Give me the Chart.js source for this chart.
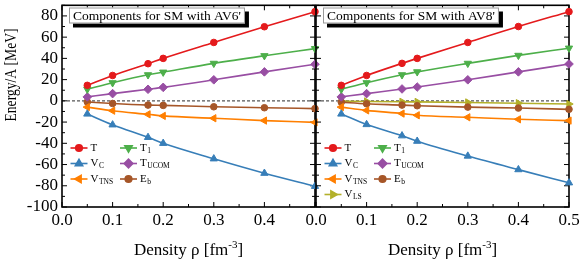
<!DOCTYPE html>
<html>
<head>
<meta charset="utf-8">
<script src="https://cdn.jsdelivr.net/npm/chart.js@4.4.1/dist/chart.umd.min.js"></script>
<style>
  body { margin: 0; background: #fff; }
  #wrap { position: relative; width: 581px; height: 260px; }
  canvas { position: absolute; left: 0; top: 0; }
</style>
</head>
<body>
<div id="wrap">
  <canvas id="left" width="581" height="260"></canvas>
  <canvas id="right" width="581" height="260"></canvas>
</div>
<script>
// density points (fm^-3)
const density = [0.05, 0.1, 0.17, 0.2, 0.3, 0.4, 0.5];
const xTicks = [0, 0.1, 0.2, 0.3, 0.4, 0.5];
const yTicks = [-100, -80, -60, -40, -20, 0, 20, 40, 60, 80];

// AV6' panel
const T_av6 = [14.6, 23.9, 35.0, 40.0, 55.0, 69.8, 84.0];
const T1_av6 = [10.9, 17.0, 24.5, 27.0, 35.3, 42.5, 49.2];
const Tucom_av6 = [3.7, 6.8, 10.9, 12.7, 19.8, 27.3, 34.5];
const Vc_av6 = [-12.4, -22.6, -34.4, -40.0, -54.6, -68.2, -80.5];
const Vtns_av6 = [-5.9, -9.3, -12.7, -14.2, -16.4, -18.6, -20.3];
const Eb_av6 = [-1.0, -2.5, -4.0, -4.3, -5.6, -6.5, -7.3];

// AV8' panel
const T_av8 = [14.6, 23.9, 35.3, 40.0, 55.0, 70.0, 84.0];
const T1_av8 = [10.9, 17.0, 24.5, 27.3, 35.3, 42.8, 49.6];
const Tucom_av8 = [3.7, 6.8, 11.2, 13.0, 19.8, 27.3, 34.7];
const Vc_av8 = [-12.4, -22.3, -32.9, -38.0, -52.0, -64.8, -77.2];
const Vtns_av8 = [-5.9, -9.0, -12.0, -13.6, -15.5, -17.4, -18.6];
const Eb_av8 = [-1.2, -2.8, -4.0, -4.6, -5.9, -6.8, -8.0];
const Vls_av8 = [-0.3, -0.6, -0.9, -1.0, -1.5, -2.2, -3.0];

const SERIF = '"Liberation Serif", "Times New Roman", serif';

// look of each component
const styles = {
  'T':      { color: '#e41a1c', point: 'circle',   rot: 0,   r: 3.3 },
  'T_1':    { color: '#4daf4a', point: 'triangle', rot: 180, r: 4.2 },
  'V_C':    { color: '#377eb8', point: 'triangle', rot: 0,   r: 4.2 },
  'T_UCOM': { color: '#984ea3', point: 'rectRot',  rot: 0,   r: 4.3 },
  'V_TNS':  { color: '#ff7f00', point: 'triangle', rot: 270, r: 4.2 },
  'E_b':    { color: '#a65628', point: 'circle',   rot: 0,   r: 3.3 },
  'V_LS':   { color: '#b3b02a', point: 'triangle', rot: 90,  r: 4.2 }
};

function makeSet(label, values) {
  const s = styles[label];
  return {
    label: label,
    data: density.map((d, i) => ({ x: d, y: values[i] })),
    borderColor: s.color,
    backgroundColor: s.color,
    borderWidth: 1.6,
    pointStyle: s.point,
    rotation: s.rot,
    pointRadius: s.r,
    pointBorderWidth: 1,
    cubicInterpolationMode: 'monotone',
    clip: false
  };
}

function line(ctx, x1, y1, x2, y2) {
  ctx.beginPath(); ctx.moveTo(x1, y1); ctx.lineTo(x2, y2); ctx.stroke();
}

// frame, inward ticks, zero line, legend, boxed title and axis titles
const panelDeco = {
  id: 'panelDeco',
  beforeDatasetsDraw(chart, args, o) {
    const { ctx, chartArea: a, scales: { x, y } } = chart;
    ctx.save();
    ctx.strokeStyle = '#555';
    ctx.lineWidth = 1.2;
    ctx.setLineDash([3, 2]);
    const y0 = y.getPixelForValue(0);
    line(ctx, a.left, y0, a.right, y0);
    ctx.setLineDash([]);

    ctx.strokeStyle = '#000';
    ctx.lineWidth = 1;
    for (let k = 0; k <= 10; k++) {
      const px = x.getPixelForValue(k * 0.05);
      const len = k % 2 === 0 ? 5 : 3;
      line(ctx, px, a.bottom, px, a.bottom - len);
      line(ctx, px, a.top, px, a.top + len);
    }
    for (let v = -100; v <= 90; v += 10) {
      const py = y.getPixelForValue(v);
      const len = v % 20 === 0 ? 5 : 3;
      line(ctx, a.left, py, a.left + len, py);
      line(ctx, a.right, py, a.right - len, py);
    }
    ctx.lineWidth = 1.6;
    ctx.strokeRect(a.left, a.top, a.right - a.left, a.bottom - a.top);
    ctx.restore();
  },
  afterDatasetsDraw(chart, args, o) {
    const { ctx, chartArea: a } = chart;
    ctx.save();

    // legend, two columns
    const rows = [148, 163.5, 179, 194.5];
    chart.data.datasets.forEach((ds, i) => {
      const lx = a.left + (i % 2 === 0 ? 8.5 : 58);
      const ly = rows[Math.floor(i / 2)];
      ctx.strokeStyle = ds.borderColor;
      ctx.lineWidth = 1.6;
      line(ctx, lx, ly, lx + 17, ly);
      ctx.fillStyle = ds.backgroundColor;
      Chart.helpers.drawPoint(ctx, {
        pointStyle: ds.pointStyle, rotation: ds.rotation,
        radius: ds.pointRadius, borderWidth: 1
      }, lx + 8.5, ly);
      const [main, sub] = ds.label.split('_');
      ctx.fillStyle = '#000';
      ctx.textBaseline = 'middle';
      ctx.textAlign = 'left';
      ctx.font = '11px ' + SERIF;
      ctx.fillText(main, lx + 20, ly);
      if (sub) {
        const w = ctx.measureText(main).width;
        ctx.font = '7.5px ' + SERIF;
        ctx.fillText(sub, lx + 20 + w + 0.5, ly + 3);
      }
    });

    // boxed panel title with drop shadow
    ctx.font = '13.5px ' + SERIF;
    const tw = ctx.measureText(o.title).width;
    const bx = a.left + 7, by = 7.5, bw = tw + 8, bh = 16;
    ctx.fillStyle = '#000';
    ctx.fillRect(bx + 4, by + 4, bw, bh);
    ctx.fillStyle = '#fff';
    ctx.fillRect(bx, by, bw, bh);
    ctx.strokeStyle = '#999';
    ctx.lineWidth = 1;
    ctx.strokeRect(bx + 0.5, by + 0.5, bw - 1, bh - 1);
    ctx.fillStyle = '#000';
    ctx.textBaseline = 'middle';
    ctx.fillText(o.title, bx + 4, by + bh / 2 + 0.5);

    // x axis title with superscript
    const big = '17px ' + SERIF, small = '11px ' + SERIF;
    const p1 = 'Density \u03c1 [fm', p2 = '-3', p3 = ']';
    ctx.font = big; const w1 = ctx.measureText(p1).width, w3 = ctx.measureText(p3).width;
    ctx.font = small; const w2 = ctx.measureText(p2).width;
    let tx = (a.left + a.right) / 2 - (w1 + w2 + w3) / 2;
    ctx.textBaseline = 'alphabetic';
    ctx.font = big; ctx.fillText(p1, tx, 255); tx += w1;
    ctx.font = small; ctx.fillText(p2, tx, 248); tx += w2;
    ctx.font = big; ctx.fillText(p3, tx, 255);

    // y axis title
    if (o.yTitle) {
      ctx.translate(12, 75);
      ctx.rotate(-Math.PI / 2);
      ctx.scale(0.8, 1);
      ctx.font = '17px ' + SERIF;
      ctx.textAlign = 'center';
      ctx.textBaseline = 'middle';
      ctx.fillText(o.yTitle, 0, 0);
    }
    ctx.restore();
  }
};

function buildChart(id, sets, cfg) {
  return new Chart(document.getElementById(id), {
    type: 'line',
    data: { datasets: sets },
    options: {
      responsive: false,
      animation: false,
      devicePixelRatio: 1,
      layout: { padding: { top: 2, right: cfg.padRight, left: 0, bottom: 0 } },
      plugins: {
        legend: { display: false },
        tooltip: { enabled: false },
        panelDeco: { title: cfg.title, yTitle: cfg.yTitle }
      },
      scales: {
        x: {
          type: 'linear', min: 0, max: 0.5,
          grid: { display: false, drawTicks: false },
          border: { display: false },
          afterBuildTicks: s => { s.ticks = xTicks.map(v => ({ value: v })); },
          ticks: {
            padding: 3, color: '#000', maxRotation: 0, autoSkip: false,
            font: { family: SERIF, size: 17 },
            callback: v => (cfg.hideLast && Math.abs(v - 0.5) < 1e-6) ? '' : Number(v).toFixed(1)
          },
          afterFit: s => { s.height = 53; s.paddingLeft = 0; s.paddingRight = 0; }
        },
        y: {
          min: -100, max: 90,
          grid: { display: false, drawTicks: false },
          border: { display: false },
          afterBuildTicks: s => { s.ticks = yTicks.map(v => ({ value: v })); },
          ticks: {
            display: cfg.yLabels, padding: 4, color: '#000', autoSkip: false,
            font: { family: SERIF, size: 17 }
          },
          afterFit: s => { s.width = cfg.plotLeft; s.paddingTop = 0; s.paddingBottom = 0; }
        }
      }
    },
    plugins: [panelDeco]
  });
}

buildChart('left', [
  makeSet('T', T_av6),
  makeSet('T_1', T1_av6),
  makeSet('V_C', Vc_av6),
  makeSet('T_UCOM', Tucom_av6),
  makeSet('V_TNS', Vtns_av6),
  makeSet('E_b', Eb_av6)
], { plotLeft: 62, padRight: 266, yLabels: true, hideLast: true,
     title: "Components for SM with AV6'", yTitle: 'Energy/A [MeV]' });

buildChart('right', [
  makeSet('T', T_av8),
  makeSet('T_1', T1_av8),
  makeSet('V_C', Vc_av8),
  makeSet('T_UCOM', Tucom_av8),
  makeSet('V_TNS', Vtns_av8),
  makeSet('E_b', Eb_av8),
  makeSet('V_LS', Vls_av8)
], { plotLeft: 316, padRight: 12, yLabels: false, hideLast: false,
     title: "Components for SM with AV8'", yTitle: null });
</script>
</body>
</html>
